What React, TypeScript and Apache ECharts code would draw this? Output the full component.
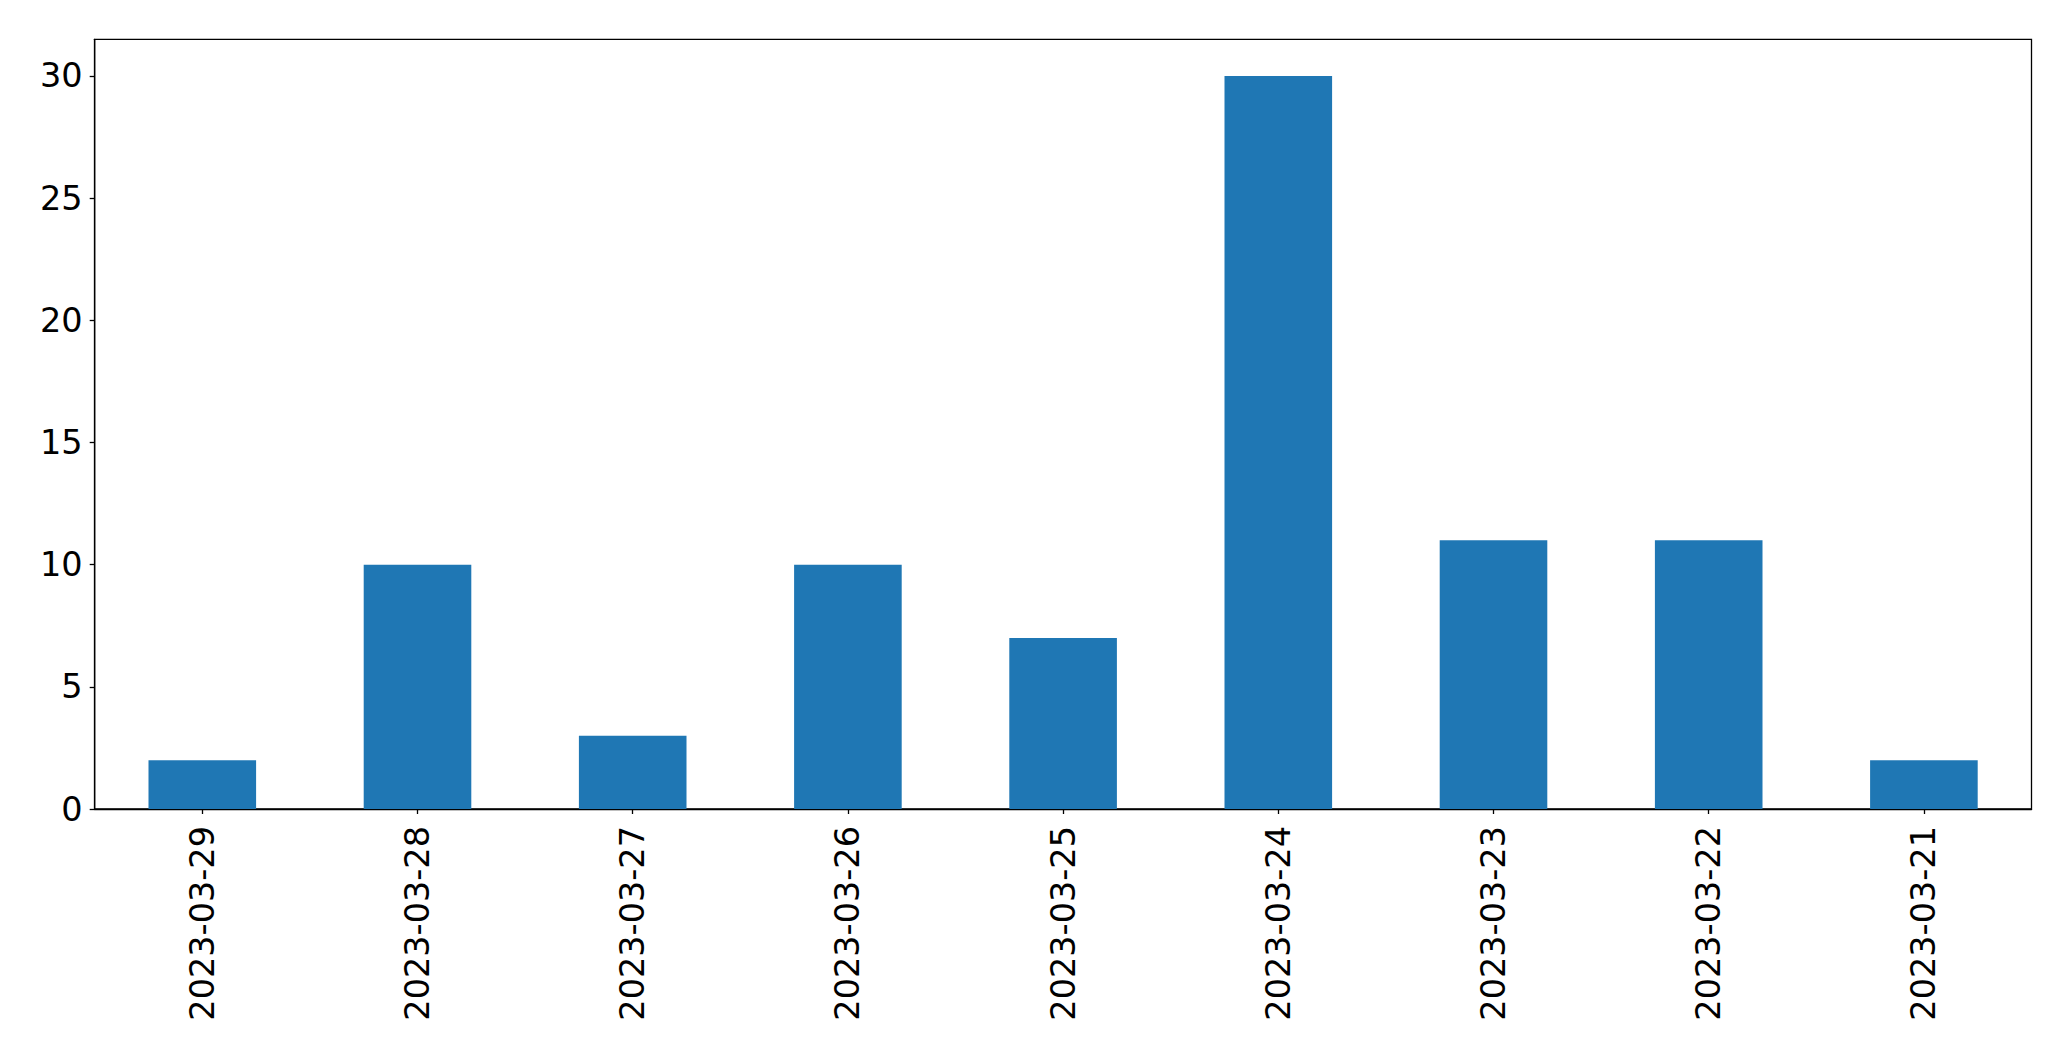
import React, { useEffect, useRef } from "react";
import * as echarts from "echarts";

const categories = [
  "2023-03-29",
  "2023-03-28",
  "2023-03-27",
  "2023-03-26",
  "2023-03-25",
  "2023-03-24",
  "2023-03-23",
  "2023-03-22",
  "2023-03-21",
];
const values = [2, 10, 3, 10, 7, 30, 11, 11, 2];

export default function App() {
  const ref = useRef<HTMLDivElement>(null);
  useEffect(() => {
    if (!ref.current) return;
    const chart = echarts.init(ref.current, null, { renderer: "svg" });
    const font = "DejaVu Sans";
    chart.setOption({
      animation: false,
      backgroundColor: "#ffffff",
      grid: {
        left: 94.7,
        right: 39.5,
        top: 39.3,
        bottom: 252,
        show: true,
        borderColor: "#000000",
        borderWidth: 1.3,
        backgroundColor: "transparent",
      },
      xAxis: {
        type: "category",
        data: categories,
        boundaryGap: true,
        axisLine: { show: true, lineStyle: { color: "#000000", width: 1.3 } },
        axisTick: {
          show: true,
          alignWithLabel: true,
          length: 5,
          lineStyle: { color: "#000000", width: 1.3 },
        },
        axisLabel: {
          rotate: 90,
          fontFamily: font,
          fontSize: 33.5,
          color: "#000000",
          margin: 17,
          interval: 0,
        },
        splitLine: { show: false },
      },
      yAxis: {
        type: "value",
        min: 0,
        max: 31.5,
        interval: 5,
        axisLine: { show: true, lineStyle: { color: "#000000", width: 1.3 } },
        axisTick: {
          show: true,
          length: 5,
          lineStyle: { color: "#000000", width: 1.3 },
        },
        axisLabel: {
          fontFamily: font,
          fontSize: 33.5,
          color: "#000000",
          margin: 12,
          showMaxLabel: false,
          formatter: (v: number) => (v % 5 === 0 ? String(v) : ""),
        },
        splitLine: { show: false },
      },
      series: [
        {
          type: "bar",
          data: values,
          barWidth: "50%",
          itemStyle: { color: "#1f77b4" },
        },
      ],
    });
    return () => chart.dispose();
  }, []);
  return (
    <div
      ref={ref}
      style={{ position: "fixed", left: 0, top: 0, width: 2071, height: 1061 }}
    />
  );
}
